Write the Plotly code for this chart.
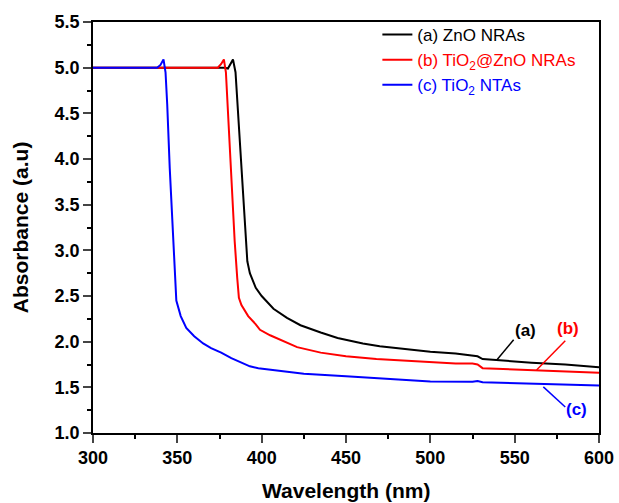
import plotly.graph_objects as go

# ---- data ----
a_x = [300, 370, 378, 380, 381.5, 383, 384.5, 386, 388, 390, 391.5, 393, 396.5, 400, 407, 415, 423,
       435, 445, 460, 470, 485, 500, 515, 525, 528, 531, 545, 560, 580, 600]
a_y = [5.0, 5.0, 5.0, 4.99, 5.04, 5.09, 4.95, 4.5, 3.8, 3.2, 2.88, 2.75, 2.59, 2.5, 2.36, 2.26, 2.18,
       2.1, 2.04, 1.98, 1.95, 1.92, 1.89, 1.87, 1.85, 1.84, 1.81, 1.79, 1.77, 1.75, 1.72]

b_x = [300, 374, 376, 377.6, 378.8, 380, 382, 384, 385.5, 386.5, 388, 392, 396.5, 399, 405, 411, 421,
       435, 450, 468, 485, 500, 515, 525, 528, 531, 545, 560, 580, 600]
b_y = [5.0, 5.0, 5.04, 5.09, 4.95, 4.5, 3.8, 3.1, 2.7, 2.48, 2.4, 2.28, 2.19, 2.13, 2.07, 2.02, 1.94,
       1.88, 1.84, 1.81, 1.79, 1.77, 1.76, 1.76, 1.75, 1.71, 1.70, 1.69, 1.675, 1.66]

c_x = [300, 338, 340, 341.8, 343, 344, 345.5, 347.6, 349.4, 352, 355.3, 360, 365.3, 370, 376, 382,
       387.6, 393, 398, 410, 425, 450, 475, 500, 525, 528, 531, 560, 600]
c_y = [5.0, 5.0, 5.03, 5.09, 4.95, 4.6, 3.9, 3.1, 2.45, 2.28, 2.15, 2.06, 1.98, 1.93, 1.88, 1.82,
       1.77, 1.73, 1.71, 1.68, 1.65, 1.62, 1.59, 1.565, 1.56, 1.57, 1.555, 1.54, 1.52]

names = ["(a) ZnO NRAs",
         "<span style='color:#ff0000'>(b) TiO<sub>2</sub>@ZnO NRAs</span>",
         "<span style='color:#0000ff'>(c) TiO<sub>2</sub> NTAs</span>"]
colors = ["#000000", "#ff0000", "#0000ff"]

# labels and leader lines
lab_text = ["(a)", "(b)", "(c)"]
lab_x = [556.5, 581.8, 586.5]
lab_y = [2.12, 2.14, 1.26]
lead_x0 = [539.4, 563.0, 567.0]
lead_y0 = [1.80, 1.69, 1.505]
lead_x1 = [549.4, 580.0, 580.0]
lead_y1 = [2.02, 2.01, 1.285]

x_title = "Wavelength (nm)"
y_title = "Absorbance (a.u)"
x_range = [300, 600]
y_range = [1.0, 5.5]

FONT = "Liberation Sans, Arial"

fig = go.Figure()
for xs, ys, nm, col in zip([a_x, b_x, c_x], [a_y, b_y, c_y], names, colors):
    fig.add_trace(go.Scatter(x=xs, y=ys, mode="lines", name=nm,
                             line=dict(color=col, width=2)))

for t, x, y, col in zip(lab_text, lab_x, lab_y, colors):
    fig.add_annotation(x=x, y=y, text=t, showarrow=False,
                       font=dict(size=17, color=col, family=FONT, weight="bold"))
for x0, y0, x1, y1, col in zip(lead_x0, lead_y0, lead_x1, lead_y1, colors):
    fig.add_shape(type="line", x0=x0, y0=y0, x1=x1, y1=y1, xref="x", yref="y",
                  line=dict(color=col, width=1.5))

# axis titles
fig.add_annotation(xref="paper", yref="paper", x=0.5, y=-0.108, yanchor="top", text=x_title,
                   showarrow=False, font=dict(size=21, family=FONT, weight="bold", color="black"))
fig.add_annotation(xref="paper", yref="paper", x=-0.143, y=0.5, xanchor="center", text=y_title,
                   textangle=-90, showarrow=False,
                   font=dict(size=21, family=FONT, weight="bold", color="black"))

tick_font = dict(family=FONT, size=18, color="black", weight="bold")
fig.update_layout(
    width=619, height=503,
    margin=dict(l=93, r=20, t=22, b=70, autoexpand=False),
    plot_bgcolor="white", paper_bgcolor="white",
    font=dict(family=FONT, color="black"),
    showlegend=True,
    legend=dict(x=0.562, y=1.012, xanchor="left", yanchor="top",
                bgcolor="rgba(0,0,0,0)", font=dict(size=17, family=FONT),
                tracegroupgap=0, itemwidth=30),
    xaxis=dict(range=x_range, dtick=50, tick0=300, ticks="outside", ticklen=8, tickwidth=1.5,
               showline=True, linecolor="black", linewidth=1.5, mirror=True, showgrid=False,
               zeroline=False, tickfont=tick_font, automargin=False,
               minor=dict(dtick=25, ticks="outside", ticklen=4, tickwidth=1.5, tickcolor="black")),
    yaxis=dict(range=y_range, dtick=0.5, tick0=1.0, tickformat=".1f", ticks="outside", ticklen=8,
               tickwidth=1.5, showline=True, linecolor="black", linewidth=1.5, mirror=True,
               showgrid=False, zeroline=False, tickfont=tick_font, automargin=False,
               minor=dict(dtick=0.25, ticks="outside", ticklen=4, tickwidth=1.5, tickcolor="black")),
    yaxis2=dict(range=y_range, overlaying="y", side="right", dtick=0.5, tick0=1.0, ticks="inside",
                ticklen=6, tickwidth=1.5, showticklabels=False, showgrid=False, zeroline=False,
                showline=False, automargin=False,
                minor=dict(dtick=0.25, ticks="inside", ticklen=4, tickwidth=1.5, tickcolor="black")),
)

fig.write_html("out.html", config={"displayModeBar": False},
               post_script="document.body.style.margin='0';document.body.style.overflow='hidden';")
